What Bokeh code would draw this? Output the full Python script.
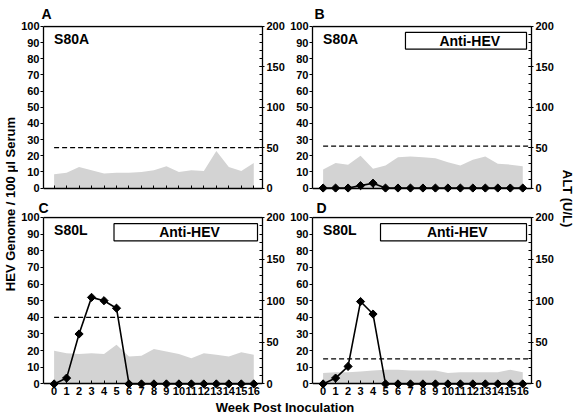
from math import pi
from bokeh.plotting import figure
from bokeh.models import (Range1d, LinearAxis, SingleIntervalTicker, FixedTicker, Label)
from bokeh.layouts import row, column
from bokeh.embed import file_html
from bokeh.resources import INLINE

# ---------------- data ----------------
weeks = list(range(17))
week_labels = [str(w) for w in weeks]

alt_A = [17, 19, 26, 22, 18, 19, 19, 20, 22, 27, 20, 22, 21, 46, 26, 21, 31]
alt_B = [23, 31, 29, 40, 24, 28, 38, 39, 38, 37, 32, 28, 35, 39, 30, 29, 27]
alt_C = [40, 37, 36, 37, 36, 47, 33, 34, 42, 39, 36, 31, 37, 35, 33, 38, 35]
alt_D = [13, 14, 14, 15, 16, 17, 17, 16, 16, 16, 13, 14, 14, 14, 14, 17, 14]

hev_B = [0, 0, 0, 1.5, 3, 0, 0, 0, 0, 0, 0, 0, 0, 0, 0, 0, 0]
hev_C = [0, 3.5, 30, 52, 50, 45.5, 0, 0, 0, 0, 0, 0, 0, 0, 0, 0, 0]
hev_D = [0, 3.5, 10.5, 49.5, 42, 0, 0, 0, 0, 0, 0, 0, 0, 0, 0, 0, 0]

alt_cutoff = {"A": 50, "B": 52, "C": 80, "D": 30}
anti_hev_start = {"B": 6.6, "C": 4.8, "D": 4.6}
anti_hev_end = 16.3
subjects = {"A": "S80A", "B": "S80A", "C": "S80L", "D": "S80L"}

# ---------------- style ----------------
FONT = "Liberation Sans"
XMIN, XMAX = -0.85, 16.7
YMIN, YMAX = -2.75, 100.6
GRAY = "#d3d3d3"
BOX_BOTTOM, BOX_TOP = 86, 96.3


def style_axis(ax):
    ax.axis_line_width = 1.3
    ax.axis_line_color = "black"
    ax.major_tick_line_color = "black"
    ax.minor_tick_line_color = "black"
    ax.major_label_text_font = FONT
    ax.major_label_text_font_style = "bold"
    ax.major_label_text_font_size = "11px"
    ax.major_label_text_color = "black"


def panel(key, alt, hev, show_xlabels, width, height, bl, br, bt, bb,
          letter_dx, letter_standoff):
    p = figure(width=width, height=height, x_range=Range1d(XMIN, XMAX),
               y_range=Range1d(YMIN, YMAX), output_backend="svg",
               toolbar_location=None, x_axis_location=None, y_axis_location=None,
               min_border_left=bl, min_border_right=br, min_border_top=bt,
               min_border_bottom=bb, outline_line_color=None)
    p.grid.visible = False
    p.extra_y_ranges = {"alt": Range1d(YMIN * 2, YMAX * 2)}

    # panel letter as title
    p.title.text = key
    p.title.align = "left"
    p.title.offset = letter_dx
    p.title.standoff = letter_standoff
    p.title.text_font = FONT
    p.title.text_font_style = "bold"
    p.title.text_font_size = "14px"
    p.title.text_color = "black"

    # axes
    left = LinearAxis(ticker=SingleIntervalTicker(interval=10, num_minor_ticks=0),
                      bounds=(0, 100))
    right = LinearAxis(y_range_name="alt",
                       ticker=SingleIntervalTicker(interval=50, num_minor_ticks=5),
                       bounds=(0, 200))
    zero_axis = LinearAxis(ticker=FixedTicker(ticks=weeks), fixed_location=0,
                           major_label_overrides={w: "" for w in weeks})
    top_line = LinearAxis(ticker=FixedTicker(ticks=[]), fixed_location=100)
    for ax in (left, right, zero_axis, top_line):
        style_axis(ax)
    left.major_tick_out = 3
    left.major_tick_in = 0
    left.major_label_standoff = 1
    right.major_tick_out = 2
    right.major_tick_in = 3
    right.minor_tick_in = 3
    right.minor_tick_out = 0
    right.major_label_standoff = 2
    zero_axis.major_tick_in = 3
    zero_axis.major_tick_out = 0
    zero_axis.minor_tick_line_color = None
    top_line.major_tick_in = 0
    top_line.major_tick_out = 0
    p.add_layout(left, "left")
    p.add_layout(right, "right")
    p.add_layout(zero_axis, "below")
    p.add_layout(top_line, "above")
    if show_xlabels:
        labels_axis = LinearAxis(ticker=FixedTicker(ticks=weeks),
                                 major_label_overrides={w: l for w, l in zip(weeks, week_labels)})
        style_axis(labels_axis)
        labels_axis.axis_line_color = None
        labels_axis.major_tick_in = 0
        labels_axis.major_tick_out = 0
        labels_axis.minor_tick_line_color = None
        labels_axis.major_label_standoff = -2
        p.add_layout(labels_axis, "below")

    # ALT area
    p.varea(x=weeks, y1=[0] * len(weeks), y2=alt, y_range_name="alt",
            fill_color=GRAY)
    # ALT cutoff
    cut = alt_cutoff[key]
    p.line(x=[weeks[0], XMAX], y=[cut, cut], y_range_name="alt",
           line_color="black", line_width=1.2, line_dash="5 3")

    # HEV genome
    if hev is not None:
        p.line(x=weeks, y=hev, line_color="black", line_width=1.6)
        p.scatter(x=weeks, y=hev, marker="square", angle=pi / 4, size=5.8,
                  fill_color="black", line_color="black")

    # Anti-HEV bar
    if key in anti_hev_start:
        s = anti_hev_start[key]
        p.quad(left=[s], right=[anti_hev_end], bottom=[BOX_BOTTOM], top=[BOX_TOP],
               fill_color="white", line_color="black", line_width=1.2)
        p.add_layout(Label(x=(s + anti_hev_end) / 2 + 0.3, y=(BOX_BOTTOM + BOX_TOP) / 2,
                           text="Anti-HEV", text_align="center", text_baseline="middle",
                           text_font=FONT, text_font_style="bold",
                           text_font_size="14px", text_color="black"))

    # subject label
    p.add_layout(Label(x=weeks[0], y=100, x_offset=0, y_offset=-5, text=subjects[key],
                       text_align="left", text_baseline="top", text_font=FONT,
                       text_font_style="bold", text_font_size="14px",
                       text_color="black"))
    return p


TOP_H, BOT_H = 196, 204
pA = panel("A", alt_A, None, False, 269, TOP_H, 22, 24, 23, 4, -2, 7)
pB = panel("B", alt_B, hev_B, False, 269, TOP_H, 22, 24, 23, 4, 2, 7)
pC = panel("C", alt_C, hev_C, True, 269, BOT_H, 22, 24, 19, 12, -5, 2)
pD = panel("D", alt_D, hev_D, True, 269, BOT_H, 22, 24, 19, 12, 4, 2)


def text_fig(w, h, text, x, y, angle):
    f = figure(width=w, height=h, x_range=Range1d(0, 1), y_range=Range1d(0, 1),
               x_axis_location=None, y_axis_location=None, toolbar_location=None,
               output_backend="svg", min_border=0, outline_line_color=None)
    f.grid.visible = False
    f.add_layout(Label(x=x, y=y, text=text, angle=angle, text_align="center",
                       text_baseline="middle", text_font=FONT, text_font_style="bold",
                       text_font_size="13px", text_color="black"))
    return f


ylab = text_fig(18, TOP_H + BOT_H, "HEV Genome / 100 \u03bcl Serum", 0.53, 0.491, pi / 2)
altlab = text_fig(20, TOP_H + BOT_H, "ALT (U/L)", 0.55, 0.505, -pi / 2)
xlab = text_fig(576, 14, "Week Post Inoculation", 0.494, 0.5, 0)

layout = column(row(ylab, column(row(pA, pB), row(pC, pD)), altlab), xlab)

open("out.html", "w").write(file_html(layout, INLINE))
